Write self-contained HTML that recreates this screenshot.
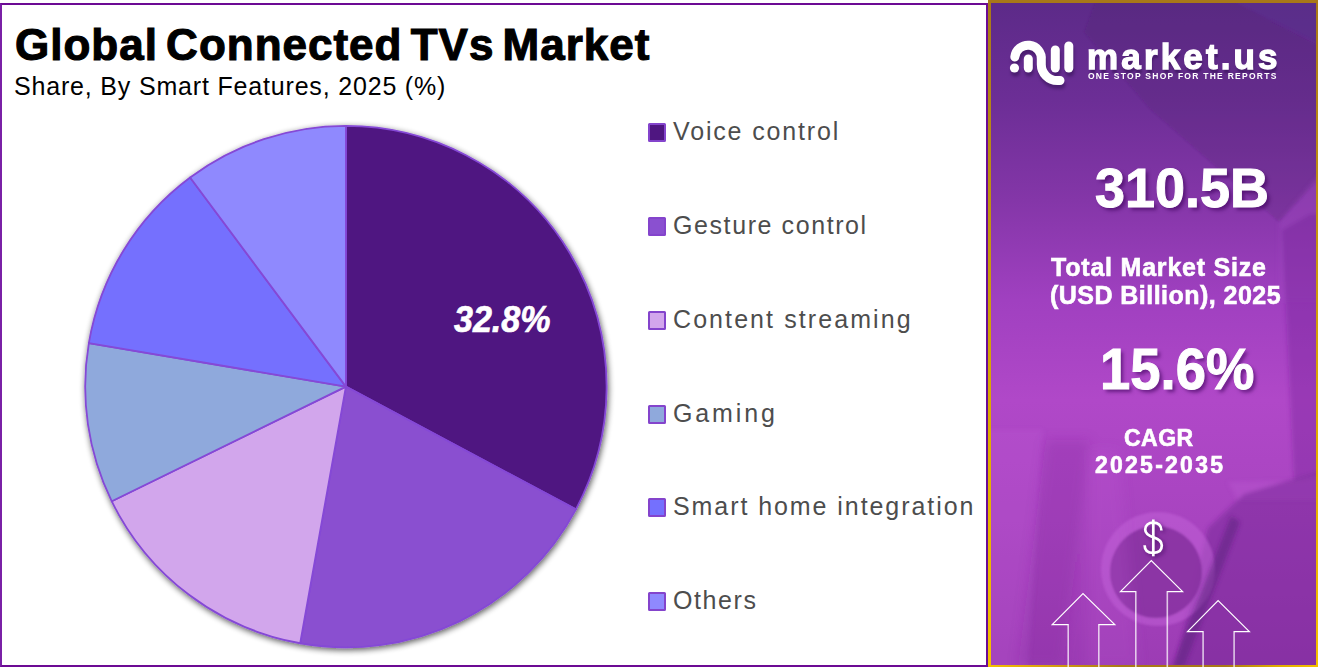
<!DOCTYPE html>
<html><head><meta charset="utf-8">
<style>
html,body{margin:0;padding:0;}
body{width:1318px;height:667px;position:relative;overflow:hidden;background:#fff;font-family:"Liberation Sans",sans-serif;}
.abs{position:absolute;white-space:nowrap;}
#left{position:absolute;left:0;top:3px;width:984px;height:660px;border:2px solid #6c0a94;border-left-color:#7a20a6;background:#fff;}
#title{left:15px;top:20px;font-size:44px;font-weight:700;color:#000;letter-spacing:1.0px;word-spacing:-5px;line-height:50px;-webkit-text-stroke:1.1px #000;}
#sub{left:14px;top:70.5px;font-size:25px;color:#000;letter-spacing:0.82px;line-height:30px;}
.leg{position:absolute;left:648px;width:18px;height:18.6px;box-sizing:border-box;border:2px solid #8444cc;border-radius:1.5px;}
.lt{position:absolute;left:673px;font-size:25px;color:#4d4d4d;line-height:30px;white-space:nowrap;}
.rb{position:absolute;}
#rbt{left:988px;top:0;width:330px;height:2.5px;background:#a87818;}
#rbl{left:988px;top:0;width:2.5px;height:667px;background:linear-gradient(180deg,#a87818 0%,#c49410 35%,#e0ac00 65%,#f5c000 100%);}
#rbr{left:1315.5px;top:0;width:2.5px;height:667px;background:linear-gradient(180deg,#a87818 0%,#c49410 35%,#e0ac00 65%,#f5c000 100%);}
#rbb{left:988px;top:664.5px;width:330px;height:2.5px;background:linear-gradient(90deg,#f5c000 0%,#d8a010 18%,#a87818 40%,#a87818 72%,#e0ac00 88%,#f5c000 100%);}
#right{position:absolute;left:988px;top:0;width:330px;height:667px;overflow:hidden;
 background:#9a3cb8;}
.wt{position:absolute;color:#fff;font-weight:700;white-space:nowrap;}
</style></head>
<body>
<div id="left"></div>
<div class="abs" id="title">Global Connected TVs Market</div>
<div class="abs" id="sub">Share, By Smart Features, 2025 (%)</div>

<svg width="984" height="667" style="position:absolute;left:0;top:0">
<defs>
<filter id="sh" x="-10%" y="-10%" width="120%" height="120%"><feGaussianBlur in="SourceAlpha" stdDeviation="3"/><feOffset dx="1" dy="2"/><feComponentTransfer><feFuncA type="linear" slope="0.65"/></feComponentTransfer><feMerge><feMergeNode/><feMergeNode in="SourceGraphic"/></feMerge></filter>
</defs>
<g filter="url(#sh)" stroke="#8548d6" stroke-width="1.8" stroke-linejoin="round">
<path d="M345.9,386.6 L345.90,125.90 A260.7,260.7 0 0 1 575.91,509.31 Z" fill="#4f1681"/>
<path d="M345.9,386.6 L575.91,509.31 A260.7,260.7 0 0 1 300.18,643.26 Z" fill="#8a50d0"/>
<path d="M345.9,386.6 L300.18,643.26 A260.7,260.7 0 0 1 111.78,501.29 Z" fill="#d2a6ec"/>
<path d="M345.9,386.6 L111.78,501.29 A260.7,260.7 0 0 1 88.85,343.12 Z" fill="#8fa9dc"/>
<path d="M345.9,386.6 L88.85,343.12 A260.7,260.7 0 0 1 190.10,177.58 Z" fill="#7470fe"/>
<path d="M345.9,386.6 L190.10,177.58 A260.7,260.7 0 0 1 345.90,125.90 Z" fill="#8f89fe"/>
</g>
<text transform="translate(454,332) scale(0.92,1)" x="0" y="0" font-family="Liberation Sans" font-size="37" font-weight="700" font-style="italic" fill="#fff" stroke="#fff" stroke-width="0.7">32.8%</text>
</svg>

<div class="leg" style="top:123px;background:#4f1681"></div><div class="lt" style="top:116px;letter-spacing:1.84px">Voice control</div>
<div class="leg" style="top:217px;background:#8a50d0"></div><div class="lt" style="top:210px;letter-spacing:1.59px">Gesture control</div>
<div class="leg" style="top:311px;background:#d2a6ec"></div><div class="lt" style="top:304px;letter-spacing:2.08px">Content streaming</div>
<div class="leg" style="top:405px;background:#8fa9dc"></div><div class="lt" style="top:398px;letter-spacing:2.86px">Gaming</div>
<div class="leg" style="top:498px;background:#7470fe"></div><div class="lt" style="top:491px;letter-spacing:1.93px">Smart home integration</div>
<div class="leg" style="top:592px;background:#8f89fe"></div><div class="lt" style="top:585px;letter-spacing:1.6px">Others</div>

<div id="right">
<svg width="330" height="667" style="position:absolute;left:0;top:0">
<defs>
<linearGradient id="bg" x1="0" y1="0" x2="0" y2="667" gradientUnits="userSpaceOnUse">
<stop offset="0" stop-color="#5c2a88"/>
<stop offset="0.15" stop-color="#6c2e96"/>
<stop offset="0.30" stop-color="#8436a8"/>
<stop offset="0.45" stop-color="#a040c0"/>
<stop offset="0.60" stop-color="#b048c8"/>
<stop offset="0.78" stop-color="#a844c0"/>
<stop offset="1" stop-color="#9c3cb4"/>
</linearGradient>
<filter id="bl" x="-20%" y="-20%" width="140%" height="140%"><feGaussianBlur stdDeviation="2"/></filter>
<filter id="bl1" x="-20%" y="-20%" width="140%" height="140%"><feGaussianBlur stdDeviation="1.2"/></filter>
<filter id="bl2" x="-20%" y="-20%" width="140%" height="140%"><feGaussianBlur stdDeviation="6"/></filter>
</defs>
<rect width="330" height="667" fill="url(#bg)"/>
<g filter="url(#bl1)">
<polygon points="110,-5 233,-5 335,48 335,175 291,222 162,109 96,32" fill="#4a1a6a" opacity="0.22"/>
<polygon points="233,-5 340,-5 340,48" fill="#5a2e8a" opacity="0.7"/>
</g>
<g filter="url(#bl)">
<polygon points="291,222 335,170 335,300 291,300" fill="#a048c0" opacity="0.35"/>
<polygon points="294,230 322,214 335,214 335,475 306,481" fill="#6a2090" opacity="0.32"/>
<polygon points="240,482 306,481 335,470 335,500 250,500" fill="#c060d6" opacity="0.3"/>
<polygon points="-5,430 55,430 40,670 -5,670" fill="#c060d6" opacity="0.25"/>
<polygon points="256,494 335,470 335,670 186,670 220,528" fill="#6e2690" opacity="0.45"/>
</g>
<g filter="url(#bl1)">
<circle cx="170" cy="569" r="57" fill="#c462da" opacity="0.5"/>
<circle cx="168" cy="572" r="46" fill="#86309f" opacity="0.85"/>
</g>
<g filter="url(#bl2)">
<polygon points="58,440 102,440 75,667 30,667" fill="#7a2898" opacity="0.22"/>
<polygon points="102,450 130,450 150,667 100,667" fill="#c060d6" opacity="0.18"/>
</g>
<g filter="url(#bl)">
<polygon points="243,516 252,522 196,667 184,667" fill="#5a1e7c" opacity="0.5"/>
</g>
</svg>
</div>
<div class="rb" id="rbt"></div><div class="rb" id="rbl"></div><div class="rb" id="rbr"></div><div class="rb" id="rbb"></div>
<!-- logo -->
<svg width="330" height="120" style="position:absolute;left:988px;top:0;filter:drop-shadow(1px 4px 1.5px rgba(40,10,70,0.45))">
<g fill="none" stroke="#fff" stroke-width="9" stroke-linecap="round">
<path d="M26.8,57 A13.2,13.2 0 0 1 53.3,60 L53.3,64.5 A16,16 0 0 0 69.3,80.5 L72,80.5"/>
<line x1="40.3" y1="59" x2="40.3" y2="68"/>
<line x1="67.3" y1="50" x2="67.3" y2="68"/>
<line x1="80.8" y1="46" x2="80.8" y2="68"/>
</g>
<circle cx="26.5" cy="68" r="4.6" fill="#fff"/>
</svg>
<div class="wt" style="left:1087px;top:35px;font-size:35px;letter-spacing:3.15px;line-height:44px;-webkit-text-stroke:1.3px #fff;text-shadow:1px 4px 2px rgba(40,10,70,0.45)">market.us</div>
<div class="wt" style="left:1088px;top:70px;font-size:8.5px;letter-spacing:1.26px;line-height:12px">ONE STOP SHOP FOR THE REPORTS</div>

<div class="wt" style="left:1095px;top:156px;font-size:56px;letter-spacing:0px;line-height:64px;transform:scaleX(0.964);transform-origin:0 0;-webkit-text-stroke:1px #fff;text-shadow:3px 3px 4px rgba(60,0,90,0.6)">310.5B</div>
<div class="wt" style="left:1051px;top:253px;font-size:25px;letter-spacing:0.79px;line-height:28px;-webkit-text-stroke:0.6px #fff">Total Market Size</div>
<div class="wt" style="left:1050px;top:281px;font-size:25px;letter-spacing:0.46px;line-height:28px;-webkit-text-stroke:0.6px #fff">(USD Billion), 2025</div>
<div class="wt" style="left:1100px;top:337px;font-size:57px;letter-spacing:0px;line-height:64px;transform:scaleX(0.955);transform-origin:0 0;-webkit-text-stroke:1px #fff;text-shadow:3px 3px 4px rgba(60,0,90,0.6)">15.6%</div>
<div class="wt" style="left:1124px;top:425px;font-size:23px;letter-spacing:0.5px;line-height:26px;-webkit-text-stroke:0.6px #fff">CAGR</div>
<div class="wt" style="left:1095px;top:452px;font-size:23px;letter-spacing:2.25px;line-height:26px;-webkit-text-stroke:0.6px #fff">2025-2035</div>
<svg width="40" height="50" style="position:absolute;left:1133px;top:512px;filter:drop-shadow(2px 2px 2px rgba(50,0,80,0.55))">
<g transform="translate(-1133,-512)" fill="none" stroke="#fff" stroke-width="2.7">
<path d="M1161.4,530.5 C1161.4,525.3 1158,522.6 1153.3,522.6 C1148.5,522.6 1145.2,525.2 1145.2,529.6 C1145.2,534.4 1149.2,536 1153.6,537.4 C1158.4,538.9 1161.8,541 1161.8,545.6 C1161.8,550.4 1158.4,552.9 1153.3,552.9 C1148,552.9 1144.6,550.3 1144.6,545.2"/>
<line x1="1153.3" y1="519.5" x2="1153.3" y2="556.3"/>
</g>
</svg>
<svg width="1318" height="667" style="position:absolute;left:0;top:0;pointer-events:none">
<g fill="none" stroke="#fff" stroke-linejoin="miter">
<polyline stroke-width="1.2" points="1068.2,624.6 1052.2,624.6 1083,593.5 1114.8,624.6 1098.8,624.6"/>
<line stroke-width="1.6" stroke-opacity="0.72" x1="1068.2" y1="624.0" x2="1068.2" y2="667"/>
<line stroke-width="1.6" stroke-opacity="0.72" x1="1098.8" y1="624.0" x2="1098.8" y2="667"/>
<polyline stroke-width="1.2" points="1135.8,591.6 1120.5,591.6 1151.3,560.6 1182.6,591.6 1167.3,591.6"/>
<line stroke-width="1.6" stroke-opacity="0.72" x1="1135.8" y1="591.0" x2="1135.8" y2="667"/>
<line stroke-width="1.6" stroke-opacity="0.72" x1="1167.3" y1="591.0" x2="1167.3" y2="667"/>
<polyline stroke-width="1.2" points="1203.1,631.6 1187.5,631.6 1218.1,600.6 1249.4,631.6 1234.1,631.6"/>
<line stroke-width="1.6" stroke-opacity="0.72" x1="1203.1" y1="631.0" x2="1203.1" y2="667"/>
<line stroke-width="1.6" stroke-opacity="0.72" x1="1234.1" y1="631.0" x2="1234.1" y2="667"/>
</g>
</svg>
</body></html>
